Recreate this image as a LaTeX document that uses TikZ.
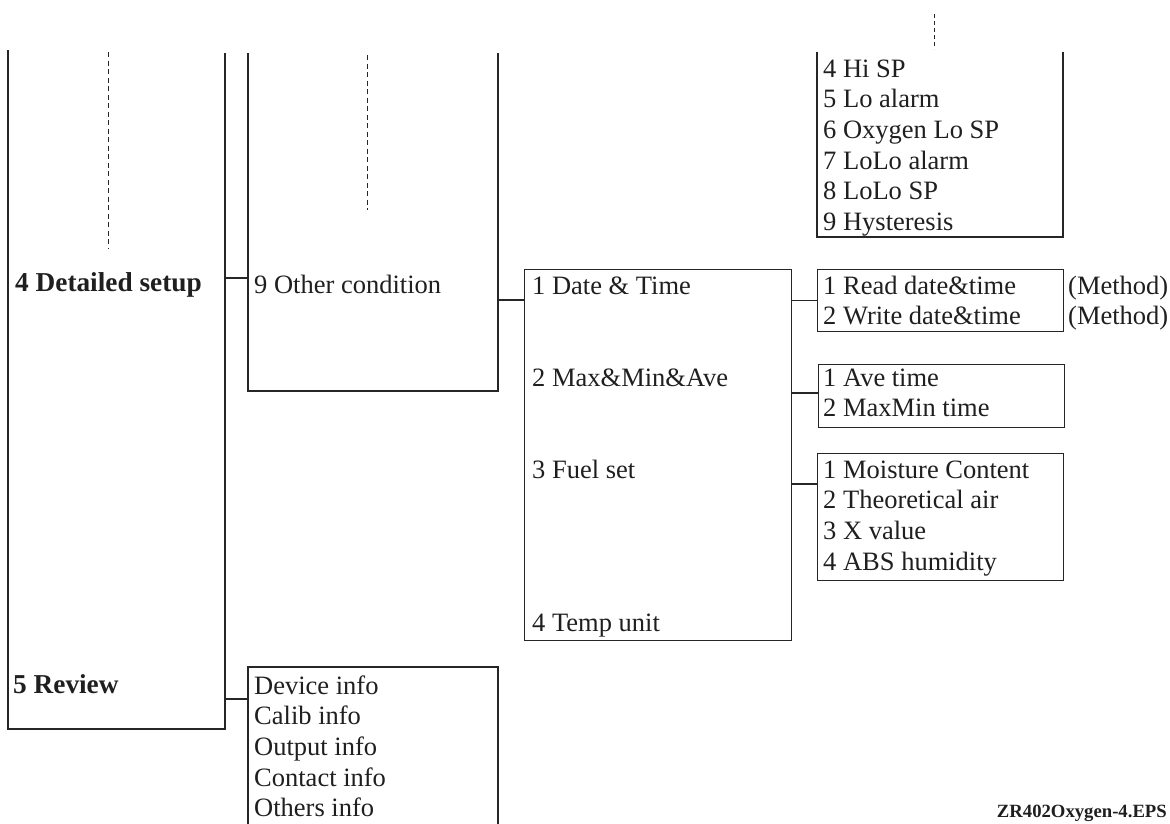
\documentclass[tikz,border=0pt]{standalone}
\usepackage{fontspec}
\setmainfont{Liberation Serif}
\newfontfamily\hdfont{Liberation Serif}
\begin{document}
\begin{tikzpicture}[x=1pt,y=-1pt,
  ln/.style={draw=black!85, line width=1.1pt},
  box/.style={ln, rectangle, inner sep=0pt, anchor=north west},
  dsh/.style={draw=black!85, line width=1pt, dash pattern=on 5pt off 3.5pt},
  itm/.style={anchor=base west, inner sep=0pt, text=black!88, font=\fontsize{26.5}{30.7}\selectfont},
  hd/.style={anchor=base west, inner sep=0pt, text=black!88, font=\hdfont\bfseries\fontsize{27.3}{30}\selectfont},
  tag/.style={anchor=base east, inner sep=0pt, text=black!88, font=\hdfont\bfseries\fontsize{18.7}{20}\selectfont}]
\useasboundingbox (0,0) rectangle (1170,823);

% ---- open boxes (drawn as paths) ----
\coordinate (lbTL) at (8,50);
\coordinate (lbBL) at (8,729);
\coordinate (lbBR) at (225,729);
\coordinate (lbTR) at (225,53);
\draw[ln] (lbTL) -- (lbBL) -- (lbBR) -- (lbTR);

\coordinate (ocTL) at (248,53);
\coordinate (ocBL) at (248,391);
\coordinate (ocBR) at (498,391);
\coordinate (ocTR) at (498,53);
\draw[ln] (ocTL) -- (ocBL) -- (ocBR) -- (ocTR);

\coordinate (alTL) at (817,52);
\coordinate (alBL) at (817,237);
\coordinate (alBR) at (1063,237);
\coordinate (alTR) at (1063,52);
\draw[ln] (alTL) -- (alBL) -- (alBR) -- (alTR);

\coordinate (rvBL) at (248,830);
\coordinate (rvTL) at (248,667);
\coordinate (rvTR) at (498,667);
\coordinate (rvBR) at (498,830);
\draw[ln] (rvBL) -- (rvTL) -- (rvTR) -- (rvBR);

% ---- dashed continuation lines ----
\coordinate (d1a) at (108,52);  \coordinate (d1b) at (108,248);
\coordinate (d2a) at (367,55);  \coordinate (d2b) at (367,210);
\coordinate (d3a) at (934,14);  \coordinate (d3b) at (934,49);
\draw[dsh] (d1a) -- (d1b);
\draw[dsh] (d2a) -- (d2b);
\draw[dsh, dash pattern=on 4pt off 3pt] (d3a) -- (d3b);

% ---- closed boxes ----
\node[box, minimum width=267pt, minimum height=371pt] (date) at (524,269) {};
\node[box, minimum width=246pt, minimum height=62pt] (read) at (817,269) {};
\node[box, minimum width=246pt, minimum height=63pt] (ave) at (818,364) {};
\node[box, minimum width=246pt, minimum height=127pt] (fuel) at (817,453) {};

% ---- connectors ----
\coordinate (c1a) at (225,278); \coordinate (c1b) at (248,278);
\draw[ln] (c1a) -- (c1b);
\coordinate (c2a) at (498,300);
\draw[ln] (c2a) -- (date.west |- c2a);
\draw[ln] (date.east |- read.west) -- (read.west);
\coordinate (c3) at (800,393);
\draw[ln] (date.east |- c3) -- (ave.west |- c3);
\coordinate (c4) at (800,484);
\draw[ln] (date.east |- c4) -- (fuel.west |- c4);
\coordinate (c5a) at (225,699); \coordinate (c5b) at (248,699);
\draw[ln] (c5a) -- (c5b);

% ---- texts ----
\node[hd] (t4) at (15,291) {4 Detailed setup};
\node[hd] (t5) at (13,693) {5 Review};
\node[itm] (t9) at (254,293) {9 Other condition};

\node[itm] (a4) at (823,77) {4 Hi SP};
\node[itm] (a5) at (823,107.7) {5 Lo alarm};
\node[itm] (a6) at (823,138.4) {6 Oxygen Lo SP};
\node[itm] (a7) at (823,169.1) {7 LoLo alarm};
\node[itm] (a8) at (823,199.8) {8 LoLo SP};
\node[itm] (a9) at (823,230.5) {9 Hysteresis};

\node[itm] (m1) at (532,294) {1 Date \& Time};
\node[itm] (m2) at (532,386) {2 Max\&Min\&Ave};
\node[itm] (m3) at (532,478) {3 Fuel set};
\node[itm] (m4) at (532,631) {4 Temp unit};

\node[itm] (r1) at (823,294) {1 Read date\&time};
\node[itm] (r2) at (823,324.7) {2 Write date\&time};
\node[itm] (me1) at (1068,294) {(Method)};
\node[itm] (me2) at (1068,324.7) {(Method)};

\node[itm] (v1) at (823,386) {1 Ave time};
\node[itm] (v2) at (823,416.7) {2 MaxMin time};

\node[itm] (f1) at (823,478) {1 Moisture Content};
\node[itm] (f2) at (823,508.7) {2 Theoretical air};
\node[itm] (f3) at (823,539.4) {3 X value};
\node[itm] (f4) at (823,570.1) {4 ABS humidity};

\node[itm] (i1) at (254,694) {Device info};
\node[itm] (i2) at (254,724.7) {Calib info};
\node[itm] (i3) at (254,755.4) {Output info};
\node[itm] (i4) at (254,786.1) {Contact info};
\node[itm] (i5) at (254,816.8) {Others info};

\node[tag] (eps) at (1167,817) {ZR402Oxygen-4.EPS};
\end{tikzpicture}
\end{document}
